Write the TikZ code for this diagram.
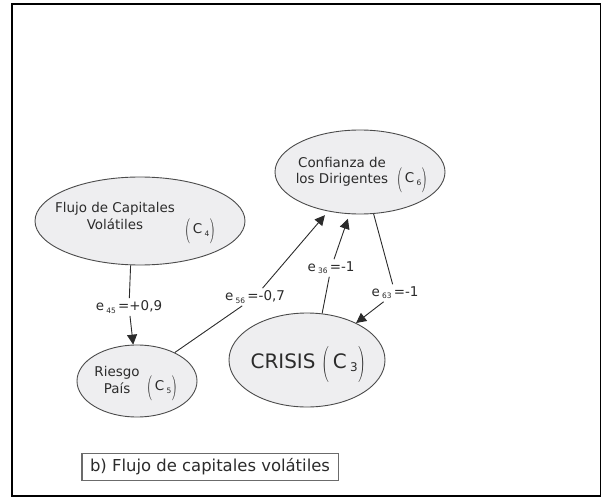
\documentclass[tikz,border=0pt]{standalone}
\usepackage{fontspec}
\setmainfont{DejaVu Sans}
\usetikzlibrary{shapes.geometric,arrows.meta}
\definecolor{nodefill}{HTML}{EEEEF0}
\definecolor{ink}{HTML}{2B2B2B}
\newcommand{\sbs}[1]{\raisebox{-0.3ex}{\fontsize{7.5}{8}\selectfont#1}}
\newcommand{\sbb}[1]{\raisebox{-0.35ex}{\fontsize{12}{12}\selectfont#1}}
\newcommand{\lp}{\raisebox{-0.45ex}{\scalebox{1.05}[1.75]{$($}}}
\newcommand{\rp}{\raisebox{-0.45ex}{\scalebox{1.05}[1.75]{$)$}}}
\newcommand{\cc}[1]{\lp\,C\,\sbs{#1}\rp}
\begin{document}
\begin{tikzpicture}[x=1bp,y=-1bp,
  ell/.style={draw=ink!85, line width=0.9bp, fill=nodefill, ellipse, inner sep=0pt},
  txt/.style={text=ink, font=\fontsize{13.5}{16.5}\selectfont, align=center, inner sep=0pt},
  lab/.style={text=ink, font=\fontsize{13.5}{16}\selectfont, fill=white, inner sep=2.5bp},
  conn/.style={draw=ink, line width=0.9bp},
  arr/.style={conn, -{Triangle[length=10bp,width=10bp]}}]
\useasboundingbox (0,0) rectangle (602,500);
\draw[line width=1.6bp] (11.8,4.2) rectangle (600.6,495.8);

% ellipses
\node[ell, minimum width=210bp, minimum height=88bp] (c4) at (140,221) {};
\node[ell, minimum width=170bp, minimum height=84bp] (c6) at (360,172) {};
\node[ell, minimum width=120bp, minimum height=72bp] (c5) at (137,381) {};
\node[ell, minimum width=156bp, minimum height=94bp] (c3) at (307,360) {};

% texts
\node[txt] (t4) at (115,216) {Flujo de Capitales\\Volátiles};
\node[txt] (k4) at (200,231) {\cc{4}};
\node[txt] (t6) at (342,172) {Confianza de\\los Dirigentes};
\node[txt] (k6) at (412,180) {\cc{6}};
\node[txt] (t5) at (117,380) {Riesgo\\País};
\node[txt] (k5) at (162,388) {\cc{5}};
\node[txt, font=\fontsize{20}{22}\selectfont] (t3) at (308,364) {CRISIS \lp\,C\,\sbb{3}\rp};

% labels
\node[lab] (e45) at (129,307) {e\,\sbs{45}\,=+0,9};
\node[lab] (e56) at (255,297) {e\,\sbs{56}\,=-0,7};
\node[lab] (e36) at (331,268) {e\,\sbs{36}\,=-1};
\node[lab] (e63) at (395,293) {e\,\sbs{63}\,=-1};

% connectors
\draw[conn] (c4.258) -- (e45);
\draw[arr] (e45) -- (c5.96);
\draw[conn] (c5.37) -- (e56);
\draw[arr, shorten >=5bp] (e56) -- (c6.231);
\draw[conn] (c3.72) -- (e36);
\draw[arr, shorten >=5bp] (e36) -- (c6.256);
\draw[conn] (c6.288) -- (e63);
\draw[arr] (e63) -- (c3.37);

% caption
\node[draw=ink!70, line width=1bp, minimum width=256bp, minimum height=27bp, inner sep=0pt,
      text=ink, font=\fontsize{16.5}{18}\selectfont] (cap) at (210,466.5) {b) Flujo de capitales volátiles};
\end{tikzpicture}
\end{document}
